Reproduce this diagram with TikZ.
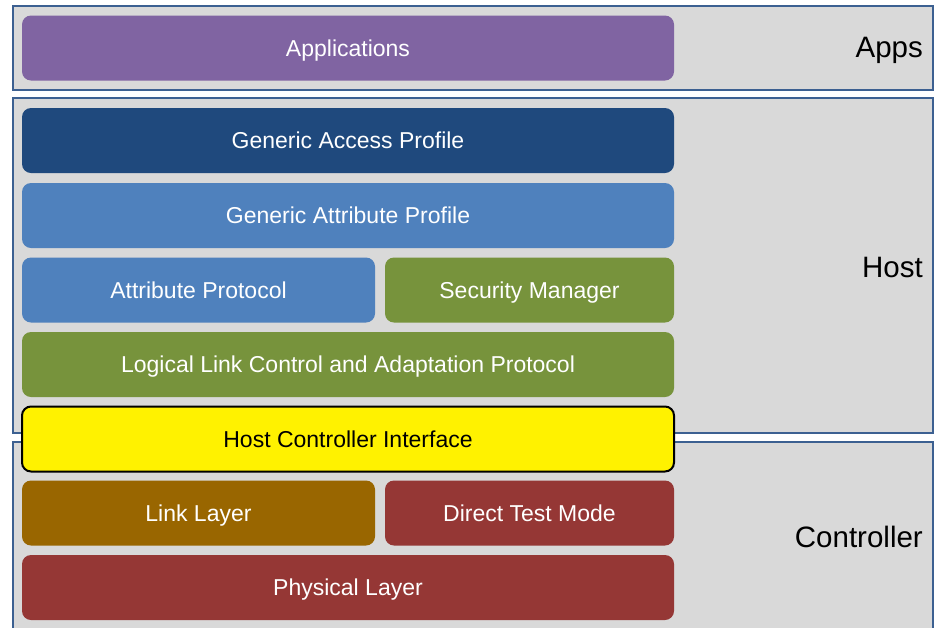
\documentclass[tikz,border=0pt]{standalone}
\usepackage{fontspec}
\setmainfont{Liberation Sans}
\definecolor{panelfill}{HTML}{D9D9D9}
\definecolor{panelline}{RGB}{60,96,145}
\definecolor{cpurple}{HTML}{8064A2}
\definecolor{cdarkblue}{HTML}{1F497D}
\definecolor{cblue}{HTML}{4F81BD}
\definecolor{cgreen}{HTML}{77933C}
\definecolor{cbrown}{HTML}{996600}
\definecolor{cred}{HTML}{953735}
\begin{document}
\begin{tikzpicture}[x=1pt,y=-1pt,
  panel/.style={draw=panelline, fill=panelfill, line width=2.2pt, inner sep=0pt, outer sep=0pt},
  layerbox/.style={rounded corners=9pt, inner sep=0pt, outer sep=0pt, minimum height=65pt,
    text height=16.5pt, text depth=0pt,
    text=white, font=\fontsize{23}{26}\selectfont},
  widebox/.style={layerbox, minimum width=652pt},
  leftbox/.style={layerbox, minimum width=353pt},
  rightbox/.style={layerbox, minimum width=289pt},
  sidelabel/.style={anchor=east, inner sep=0pt, text height=21pt, text depth=0pt,
    font=\fontsize{29.5}{34}\selectfont, text=black}]
\useasboundingbox (0,0) rectangle (936,627);
\clip (0,0) rectangle (936,627);
\fill[white] (0,0) rectangle (936,627);
% panels
\node[panel, minimum width=920pt, minimum height=84pt] (appspanel) at (473,48) {};
\node[panel, minimum width=920pt, minimum height=335pt] (hostpanel) at (473,265.5) {};
\node[panel, minimum width=920pt, minimum height=200pt] (ctrlpanel) at (473,542) {};
% side labels
\node[sidelabel] (appslbl) at (923,47) {Apps};
\node[sidelabel] (hostlbl) at (923,267) {Host};
\node[sidelabel] (ctrllbl) at (923,536.5) {Controller};
% layers
\node[widebox, fill=cpurple] (app) at (348,48) {Applications};
\node[widebox, fill=cdarkblue] (gap) at (348,140.5) {Generic Access Profile};
\node[widebox, fill=cblue] (gatt) at (348,215.5) {Generic Attribute Profile};
\node[leftbox, fill=cblue] (att) at (198.5,290) {Attribute Protocol};
\node[rightbox, fill=cgreen] (sm) at (529.5,290) {Security Manager};
\node[widebox, fill=cgreen] (l2cap) at (348,364.5) {Logical Link Control and Adaptation Protocol};
\node[widebox, fill=yellow, draw=black, line width=2pt, text=black] (hci) at (348,439) {Host Controller Interface};
\node[leftbox, fill=cbrown] (ll) at (198.5,513) {Link Layer};
\node[rightbox, fill=cred] (dtm) at (529.5,513) {Direct Test Mode};
\node[widebox, fill=cred] (phy) at (348,587.5) {Physical Layer};
\end{tikzpicture}
\end{document}
